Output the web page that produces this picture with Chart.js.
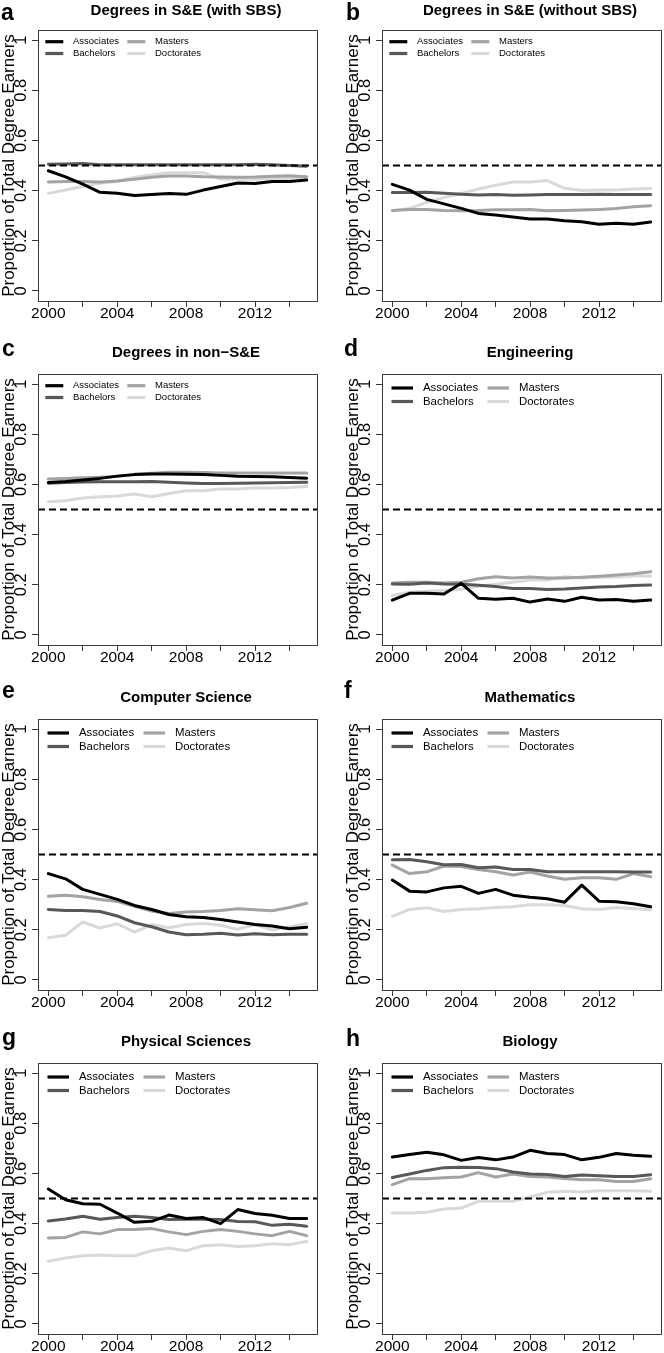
<!DOCTYPE html>
<html>
<head>
<meta charset="utf-8">
<script src="https://cdn.jsdelivr.net/npm/chart.js@4.4.1/dist/chart.umd.min.js"></script>
<style>
  html, body { margin: 0; padding: 0; background: #fff; overflow: hidden; }
  #fig { position: relative; width: 664px; height: 1353px; overflow: hidden; }
  #fig canvas { position: absolute; }
</style>
</head>
<body>
<div id="fig"></div>
<script>
// 年と系列
const years = [2000, 2001, 2002, 2003, 2004, 2005, 2006, 2007, 2008, 2009, 2010, 2011, 2012, 2013, 2014, 2015];
const seriesNames = ['Associates', 'Bachelors', 'Masters', 'Doctorates'];
const panelTitles = ['Degrees in S&E (with SBS)', 'Degrees in S&E (without SBS)', 'Degrees in non\u2212S&E', 'Engineering',
                     'Computer Science', 'Mathematics', 'Physical Sciences', 'Biology'];
const panelLetters = ['a', 'b', 'c', 'd', 'e', 'f', 'g', 'h'];
const yTicks = [0, 0.2, 0.4, 0.6, 0.8, 1];
const yTickLabels = ['0', '0.2', '0.4', '0.6', '0.8', '1'];
const xTicks = [2000, 2002, 2004, 2006, 2008, 2010, 2012, 2014];
const xTickLabels = ['2000', '', '2004', '', '2008', '', '2012', ''];
const yAxisTitle = 'Proportion of Total Degree Earners';
const refLevel = 0.5;

// a: Degrees in S&E (with SBS)
const aAssoc = [0.479, 0.455, 0.426, 0.393, 0.389, 0.380, 0.384, 0.388, 0.385, 0.402, 0.416, 0.430, 0.428, 0.436, 0.436, 0.442];
const aBach  = [0.505, 0.506, 0.508, 0.503, 0.503, 0.503, 0.503, 0.503, 0.503, 0.503, 0.503, 0.503, 0.505, 0.503, 0.500, 0.497];
const aMast  = [0.434, 0.436, 0.436, 0.434, 0.438, 0.445, 0.453, 0.458, 0.458, 0.455, 0.454, 0.453, 0.454, 0.457, 0.459, 0.455];
const aDoct  = [0.389, 0.402, 0.416, 0.429, 0.436, 0.453, 0.462, 0.471, 0.471, 0.471, 0.446, 0.446, 0.445, 0.448, 0.449, 0.453];
// b: Degrees in S&E (without SBS)
const bAssoc = [0.425, 0.402, 0.365, 0.347, 0.329, 0.309, 0.303, 0.295, 0.287, 0.287, 0.280, 0.276, 0.266, 0.270, 0.266, 0.275];
const bBach  = [0.392, 0.392, 0.393, 0.389, 0.385, 0.382, 0.384, 0.381, 0.382, 0.384, 0.384, 0.384, 0.385, 0.384, 0.384, 0.384];
const bMast  = [0.321, 0.325, 0.325, 0.321, 0.320, 0.321, 0.324, 0.324, 0.325, 0.320, 0.321, 0.323, 0.325, 0.329, 0.336, 0.340];
const bDoct  = [0.320, 0.329, 0.353, 0.372, 0.389, 0.406, 0.421, 0.434, 0.434, 0.440, 0.409, 0.400, 0.402, 0.402, 0.406, 0.408];
// c: Degrees in non-S&E
const cAssoc = [0.608, 0.612, 0.618, 0.624, 0.633, 0.639, 0.641, 0.641, 0.640, 0.639, 0.636, 0.633, 0.632, 0.631, 0.628, 0.625];
const cBach  = [0.605, 0.608, 0.610, 0.611, 0.611, 0.611, 0.612, 0.609, 0.606, 0.604, 0.604, 0.605, 0.606, 0.607, 0.608, 0.609];
const cMast  = [0.622, 0.624, 0.627, 0.629, 0.632, 0.640, 0.644, 0.648, 0.648, 0.647, 0.645, 0.645, 0.645, 0.645, 0.645, 0.645];
const cDoct  = [0.531, 0.535, 0.546, 0.551, 0.554, 0.562, 0.551, 0.564, 0.575, 0.575, 0.582, 0.582, 0.586, 0.586, 0.588, 0.592];
// d: Engineering
const dAssoc = [0.139, 0.166, 0.166, 0.163, 0.206, 0.146, 0.142, 0.146, 0.131, 0.143, 0.134, 0.150, 0.139, 0.141, 0.134, 0.139];
const dBach  = [0.203, 0.202, 0.207, 0.203, 0.202, 0.198, 0.193, 0.185, 0.185, 0.181, 0.183, 0.187, 0.191, 0.193, 0.197, 0.199];
const dMast  = [0.207, 0.210, 0.210, 0.207, 0.210, 0.224, 0.232, 0.227, 0.231, 0.227, 0.227, 0.230, 0.234, 0.239, 0.244, 0.252];
const dDoct  = [0.157, 0.170, 0.174, 0.177, 0.182, 0.194, 0.202, 0.210, 0.219, 0.219, 0.232, 0.227, 0.230, 0.231, 0.235, 0.235];
// e: Computer Science
const eAssoc = [0.424, 0.403, 0.361, 0.341, 0.321, 0.297, 0.281, 0.261, 0.252, 0.249, 0.241, 0.231, 0.221, 0.215, 0.204, 0.210];
const eBach  = [0.281, 0.277, 0.277, 0.273, 0.255, 0.228, 0.212, 0.191, 0.180, 0.182, 0.186, 0.179, 0.184, 0.180, 0.182, 0.182];
const eMast  = [0.334, 0.338, 0.332, 0.321, 0.313, 0.294, 0.275, 0.265, 0.271, 0.273, 0.277, 0.284, 0.280, 0.276, 0.289, 0.306];
const eDoct  = [0.168, 0.178, 0.231, 0.207, 0.224, 0.191, 0.221, 0.208, 0.221, 0.225, 0.218, 0.202, 0.221, 0.199, 0.212, 0.225];
// f: Mathematics
const fAssoc = [0.398, 0.354, 0.351, 0.367, 0.373, 0.345, 0.361, 0.338, 0.330, 0.324, 0.310, 0.378, 0.314, 0.312, 0.304, 0.292];
const fBach  = [0.479, 0.480, 0.471, 0.459, 0.460, 0.447, 0.450, 0.440, 0.440, 0.431, 0.431, 0.431, 0.431, 0.431, 0.430, 0.430];
const fMast  = [0.458, 0.424, 0.431, 0.454, 0.452, 0.440, 0.431, 0.418, 0.430, 0.414, 0.401, 0.407, 0.407, 0.401, 0.424, 0.411];
const fDoct  = [0.253, 0.281, 0.288, 0.273, 0.281, 0.284, 0.289, 0.292, 0.300, 0.300, 0.297, 0.284, 0.281, 0.289, 0.285, 0.280];
// g: Physical Sciences
const gAssoc = [0.538, 0.495, 0.479, 0.477, 0.442, 0.405, 0.409, 0.434, 0.420, 0.424, 0.400, 0.456, 0.440, 0.433, 0.420, 0.420];
const gBach  = [0.410, 0.418, 0.429, 0.417, 0.424, 0.429, 0.424, 0.416, 0.417, 0.417, 0.416, 0.408, 0.407, 0.393, 0.397, 0.389];
const gMast  = [0.343, 0.345, 0.367, 0.359, 0.376, 0.376, 0.380, 0.367, 0.356, 0.369, 0.376, 0.369, 0.359, 0.352, 0.369, 0.352];
const gDoct  = [0.250, 0.263, 0.272, 0.275, 0.272, 0.272, 0.292, 0.303, 0.292, 0.312, 0.316, 0.309, 0.312, 0.320, 0.316, 0.329];
// h: Biology
const hAssoc = [0.665, 0.675, 0.684, 0.674, 0.652, 0.663, 0.654, 0.665, 0.692, 0.679, 0.675, 0.654, 0.664, 0.679, 0.672, 0.668];
const hBach  = [0.584, 0.598, 0.612, 0.623, 0.625, 0.624, 0.619, 0.606, 0.598, 0.596, 0.588, 0.594, 0.591, 0.588, 0.588, 0.595];
const hMast  = [0.555, 0.579, 0.579, 0.583, 0.586, 0.603, 0.586, 0.598, 0.588, 0.586, 0.580, 0.575, 0.575, 0.568, 0.568, 0.579];
const hDoct  = [0.442, 0.442, 0.445, 0.458, 0.462, 0.489, 0.489, 0.489, 0.506, 0.525, 0.529, 0.526, 0.531, 0.531, 0.531, 0.529];

const panelSeries = [
  [aAssoc, aBach, aMast, aDoct], [bAssoc, bBach, bMast, bDoct],
  [cAssoc, cBach, cMast, cDoct], [dAssoc, dBach, dMast, dDoct],
  [eAssoc, eBach, eMast, eDoct], [fAssoc, fBach, fMast, fDoct],
  [gAssoc, gBach, gMast, gDoct], [hAssoc, hBach, hMast, hDoct]
];

// 見た目
const lineColors = ['#000000', '#585858', '#a3a3a3', '#d9d9d9'];
const FONT = '"Liberation Sans", Arial, Helvetica, sans-serif';
const TOPM = 14; // キャンバス上端の余白（記号がはみ出さないように）
const rowTops = [0, 344, 689, 1033];
const titleBaselines = [15, 13, 13, 13];
const letterBaselines = [20, 20, 12, 12, 9, 9, 12, 13];
const letterXs = [1, 14, 2, 12, 2, 12, 2, 14];
const colSetup = [
  { left: 0, yWidth: 38, padRight: 15, titleX: 186 },
  { left: 332, yWidth: 50, padRight: 3, titleX: 198 }
];
const legendSmall = { font: 9.5, x0: 7.3, len: 18, tx: 35, colGap: 82, rows: [11.7, 23.5] };
const legendLarge = { font: 11.4, x0: 9.5, len: 21.5, tx: 41, colGap: 96, rows: [14, 27.5] };

// 装飾プラグイン（参照線・凡例・枠・文字）
const panelDecor = {
  id: 'panelDecor',
  afterDatasetsDraw(chart, args, o) {
    const ctx = chart.ctx;
    const a = chart.chartArea;
    const ys = chart.scales.y;

    // 0.5 の破線
    ctx.save();
    ctx.strokeStyle = '#000';
    ctx.lineWidth = 1.8;
    ctx.setLineDash([7, 4]);
    const py = ys.getPixelForValue(refLevel);
    ctx.beginPath();
    ctx.moveTo(a.left, py);
    ctx.lineTo(a.right, py);
    ctx.stroke();
    ctx.restore();

    // 凡例
    const L = o.legend;
    ctx.save();
    ctx.font = L.font + 'px ' + FONT;
    ctx.textBaseline = 'middle';
    ctx.textAlign = 'left';
    chart.data.datasets.forEach((ds, i) => {
      const col = Math.floor(i / 2), row = i % 2;
      const x = a.left + L.x0 + col * L.colGap;
      const y = a.top + L.rows[row];
      ctx.strokeStyle = ds.borderColor;
      ctx.lineWidth = 3.2;
      ctx.lineCap = 'butt';
      ctx.beginPath();
      ctx.moveTo(x, y);
      ctx.lineTo(x + L.len, y);
      ctx.stroke();
      ctx.fillStyle = '#000';
      ctx.fillText(ds.label, a.left + L.tx + col * L.colGap, y);
    });
    ctx.restore();

    // 枠
    ctx.save();
    ctx.strokeStyle = '#3a3a3a';
    ctx.lineWidth = 1;
    ctx.strokeRect(Math.round(a.left) + 0.5, Math.round(a.top) + 0.5,
                   Math.round(a.right - a.left), Math.round(a.bottom - a.top));
    ctx.restore();
  },
  afterDraw(chart, args, o) {
    const ctx = chart.ctx;
    const a = chart.chartArea;
    const ys = chart.scales.y;
    ctx.save();
    ctx.fillStyle = '#000';

    // y 目盛りラベル（縦書き）
    ctx.font = '16.5px ' + FONT;
    ctx.textAlign = 'center';
    ctx.textBaseline = 'alphabetic';
    yTicks.forEach((v, i) => {
      ctx.save();
      ctx.translate(a.left - 12, ys.getPixelForValue(v));
      ctx.rotate(-Math.PI / 2);
      ctx.fillText(yTickLabels[i], 0, 0);
      ctx.restore();
    });

    // y 軸タイトル
    ctx.font = '17px ' + FONT;
    ctx.save();
    ctx.translate(a.left - 24, (a.top + a.bottom) / 2);
    ctx.rotate(-Math.PI / 2);
    ctx.fillText(yAxisTitle, 0, 0);
    ctx.restore();

    // パネルタイトル
    ctx.font = 'bold 15px ' + FONT;
    ctx.textAlign = 'center';
    ctx.fillText(o.title, o.titleX, o.titleY);

    // パネル記号
    ctx.font = 'bold 23px ' + FONT;
    ctx.textAlign = 'left';
    ctx.fillText(o.letter, o.letterX, o.letterY);
    ctx.restore();
  }
};

function drawPanel(p) {
  const col = colSetup[p % 2];
  const row = Math.floor(p / 2);
  const canvas = document.createElement('canvas');
  canvas.width = 332;
  canvas.height = 344 + TOPM;
  canvas.style.left = col.left + 'px';
  canvas.style.top = (rowTops[row] - TOPM) + 'px';
  document.getElementById('fig').appendChild(canvas);

  const datasets = seriesNames.map((name, i) => ({
    label: name,
    data: years.map((yr, k) => ({ x: yr, y: panelSeries[p][i][k] })),
    borderColor: lineColors[i],
    backgroundColor: lineColors[i],
    borderWidth: 3,
    pointRadius: 0,
    tension: 0,
    borderJoinStyle: 'round',
    borderCapStyle: 'round',
    fill: false
  }));

  new Chart(canvas.getContext('2d'), {
    type: 'line',
    data: { datasets: datasets },
    options: {
      responsive: false,
      animation: false,
      devicePixelRatio: 1,
      layout: { padding: { top: 30 + TOPM, left: 0, right: col.padRight, bottom: 0 } },
      plugins: {
        legend: { display: false },
        tooltip: { enabled: false },
        panelDecor: {
          title: panelTitles[p],
          titleX: col.titleX,
          titleY: titleBaselines[row] + TOPM,
          letter: panelLetters[p],
          letterX: letterXs[p],
          letterY: letterBaselines[p] + TOPM,
          legend: p < 3 ? legendSmall : legendLarge
        }
      },
      scales: {
        x: {
          type: 'linear',
          min: 1999.4,
          max: 2015.6,
          afterBuildTicks: (s) => { s.ticks = xTicks.map(v => ({ value: v })); },
          afterFit: (s) => { s.height = 43; },
          border: { display: false },
          grid: { drawOnChartArea: false, drawTicks: true, tickLength: 6, color: '#3a3a3a', lineWidth: 1 },
          ticks: {
            autoSkip: false,
            maxRotation: 0,
            padding: -3,
            color: '#000',
            font: { family: FONT, size: 15.5 },
            callback: (v, i) => xTickLabels[i]
          }
        },
        y: {
          min: -0.04,
          max: 1.04,
          afterBuildTicks: (s) => { s.ticks = yTicks.map(v => ({ value: v })); },
          afterFit: (s) => { s.width = col.yWidth; },
          border: { display: false },
          grid: { drawOnChartArea: false, drawTicks: true, tickLength: 6, color: '#3a3a3a', lineWidth: 1 },
          ticks: { callback: () => '', padding: 0 }
        }
      }
    },
    plugins: [panelDecor]
  });
}

// ページ読み込み時に8枚描画
window.onload = () => {
  for (let p = 0; p < 8; p++) drawPanel(p);
};
</script>
</body>
</html>
